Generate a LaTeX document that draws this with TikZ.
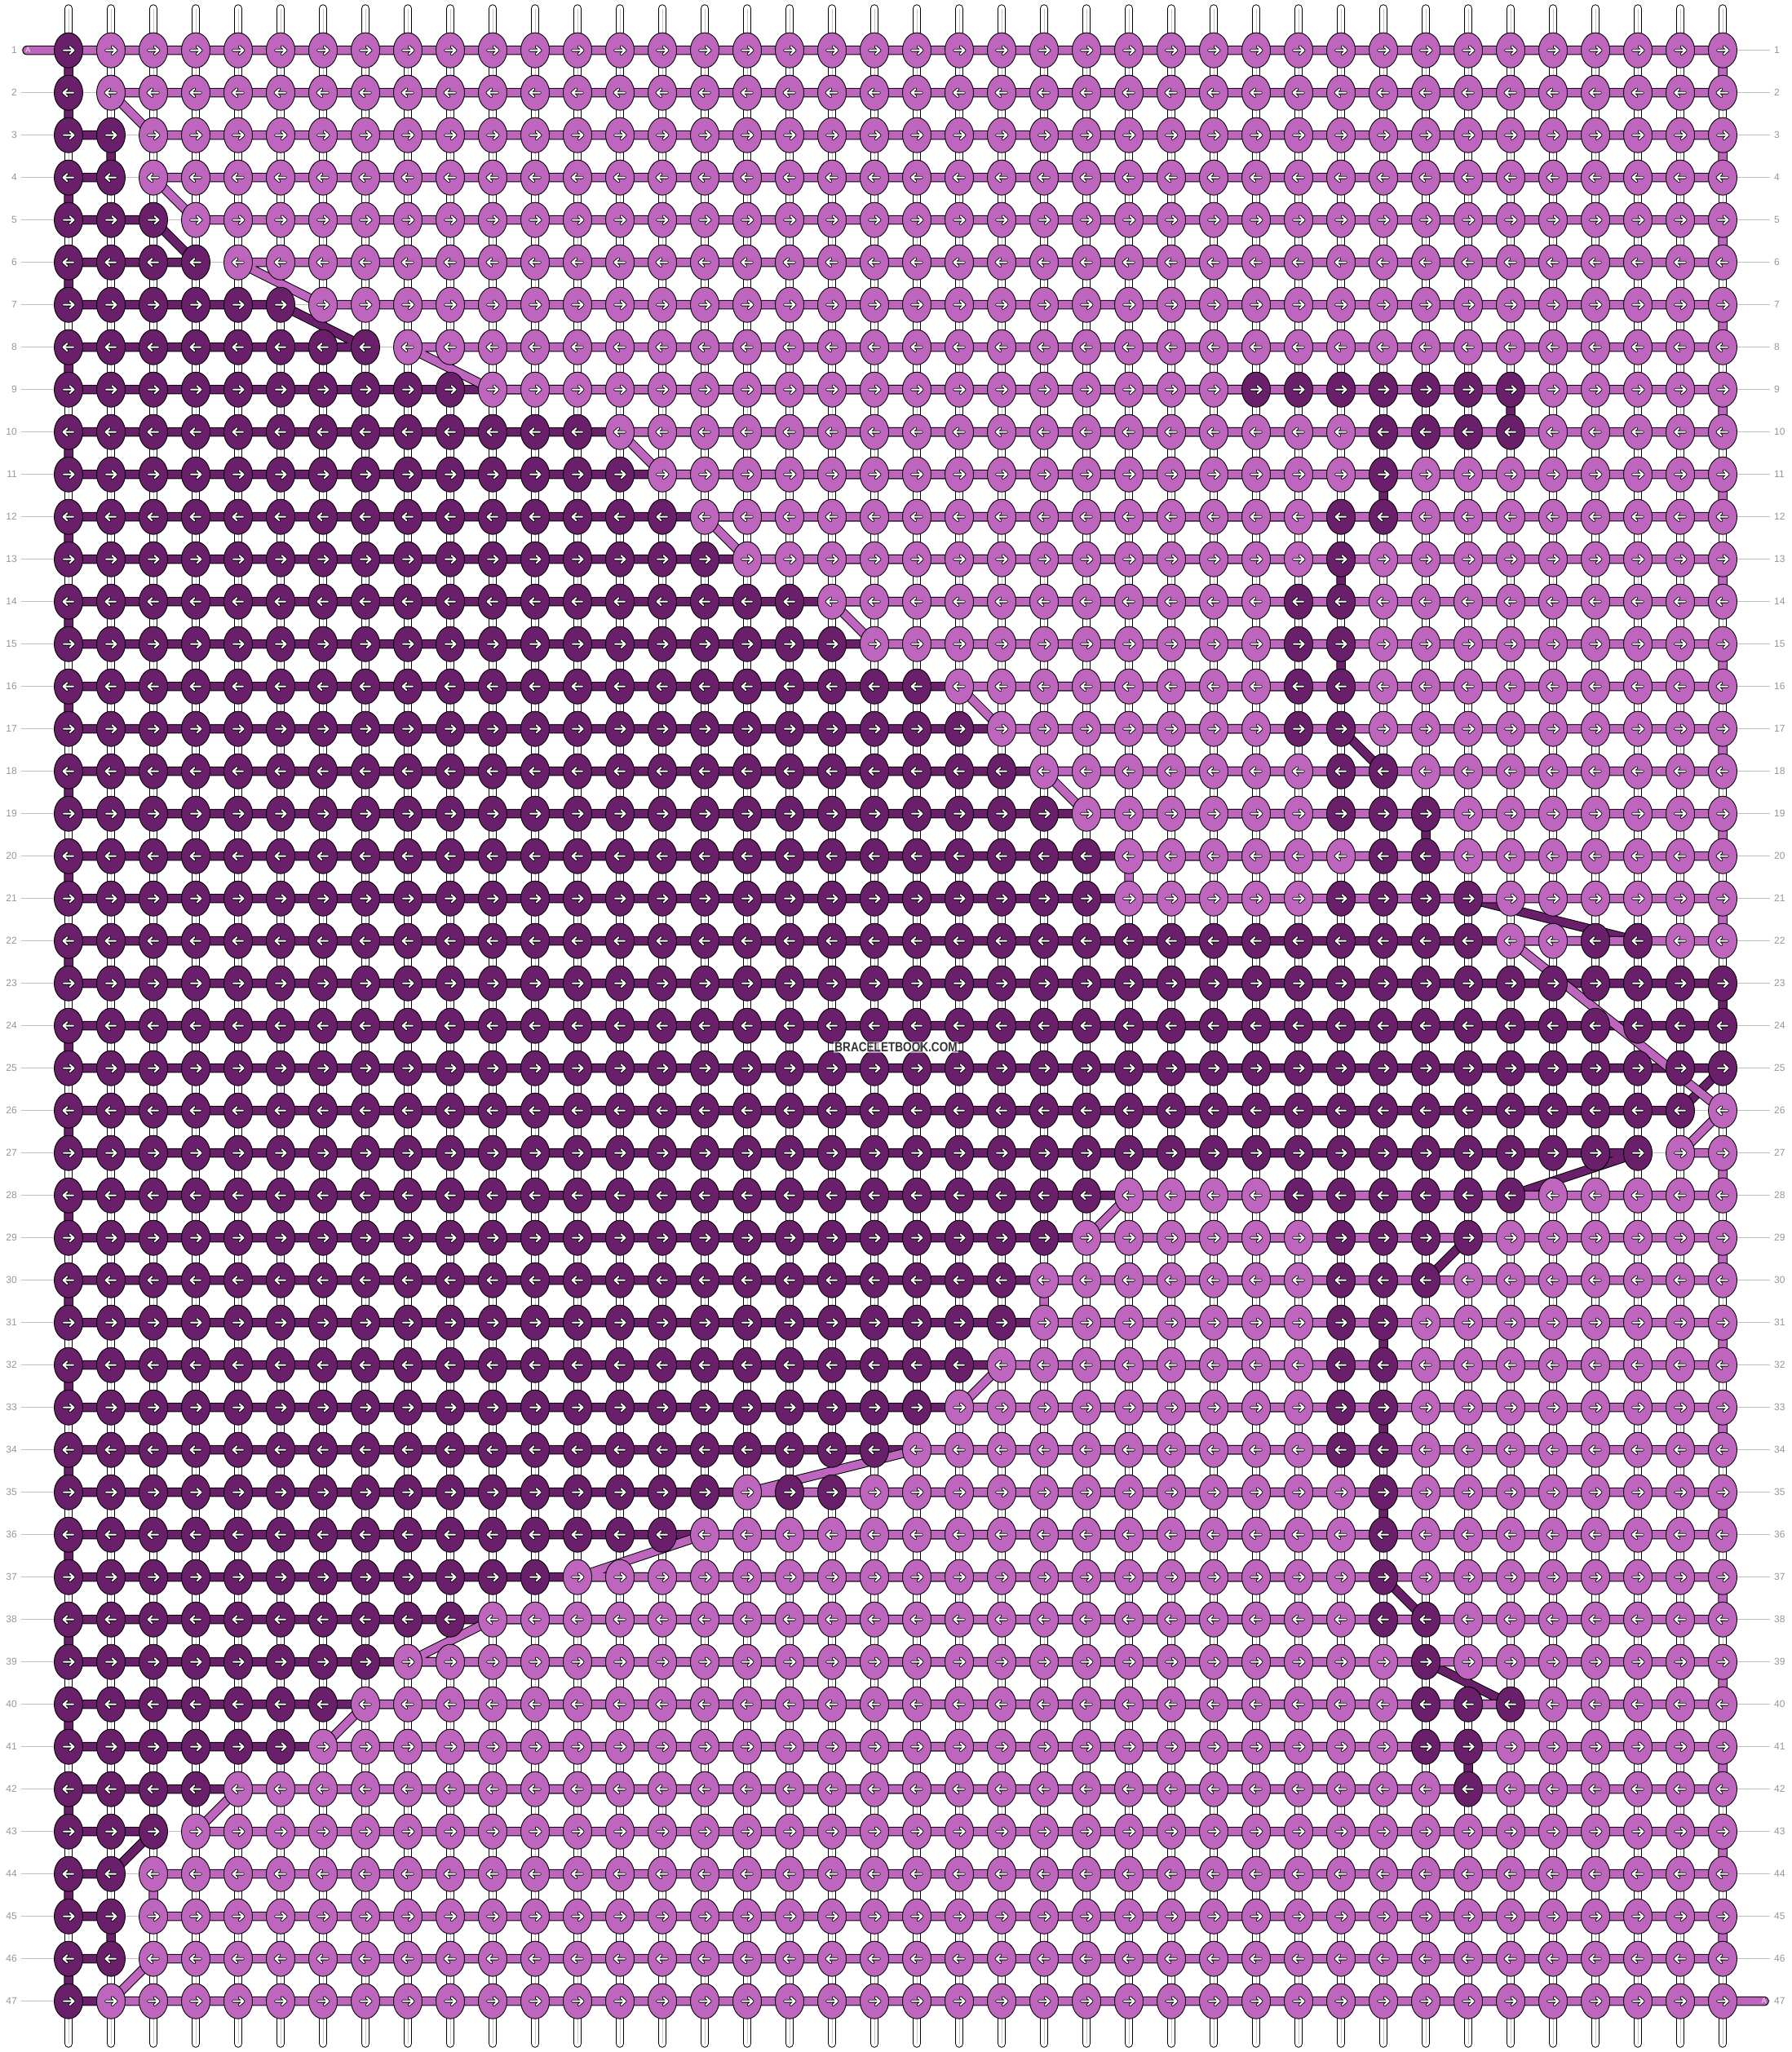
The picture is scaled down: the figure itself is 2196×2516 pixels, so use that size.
\documentclass[tikz,border=0pt]{standalone}
\usepackage{fontspec}
\setmainfont{Liberation Sans}
\usepackage{graphicx}
\definecolor{dk}{RGB}{106,31,106}
\definecolor{lt}{RGB}{190,102,190}
\definecolor{rowgray}{RGB}{192,192,192}
\definecolor{numgray}{RGB}{150,150,150}
\definecolor{apale}{RGB}{246,226,246}
\tikzset{
  knotd/.style={fill=dk, draw=black, line width=0.9pt},
  knotl/.style={fill=lt, draw=black, line width=0.9pt},
  rowline/.style={rowgray, line width=1.2pt},
  strout/.style={black, line width=10.5pt, line cap=round},
  strin/.style={white, line width=8.5pt, line cap=round},
  strmid/.style={black!22, line width=0.8pt},
  thread/.style={line width=1pt, double distance=9.5pt, line join=round, line cap=round},
  darkthread/.style={thread, draw=black, double=dk},
  lightthread/.style={thread, draw=black, double=lt},
  arrout/.style={black, line width=3.8pt, line cap=round, line join=round},
  arrin/.style={white, line width=2pt, line cap=round, line join=round},
  rownum/.style={text=numgray, font=\fontsize{12}{12}\selectfont, inner sep=0pt},
  alabel/.style={text=apale, font=\fontsize{9}{9}\selectfont, inner sep=0pt},
}
\def\darklist{1/1,2/1,3/1,3/2,4/2,4/1,5/1,5/3,6/4,6/1,7/1,7/6,8/8,8/1,9/1,9/35,10/35,10/1,11/1,11/32,12/32,12/1,13/1,13/31,14/31,14/1,15/1,15/31,16/31,16/1,17/1,17/31,18/32,18/1,19/1,19/33,20/33,20/1,21/1,21/34,22/38,22/1,23/1,23/40,24/40,24/1,25/1,25/40,26/39,26/1,27/1,27/38,28/35,28/1,29/1,29/34,30/33,30/1,31/1,31/32,32/32,32/1,33/1,33/32,34/32,34/1,35/1,35/32,36/32,36/1,37/1,37/32,38/33,38/1,39/1,39/33,40/35,40/1,41/1,41/34,42/34,42/1,43/1,43/3,44/2,44/1,45/1,45/2,46/2,46/1,47/1,47/2}
\def\lightlist{1/2,1/40,2/40,2/2,3/3,3/40,4/40,4/3,5/4,5/40,6/40,6/5,7/7,7/40,8/40,8/9,9/11,9/40,10/40,10/14,11/15,11/40,12/40,12/16,13/17,13/40,14/40,14/19,15/20,15/40,16/40,16/22,17/23,17/40,18/40,18/24,19/25,19/40,20/40,20/26,21/26,21/40,22/40,22/35,26/40,27/39,27/40,28/40,28/26,29/25,29/40,30/40,30/24,31/24,31/40,32/40,32/23,33/22,33/40,34/40,34/21,35/17,35/40,36/40,36/16,37/13,37/40,38/40,38/11,39/9,39/40,40/40,40/8,41/7,41/40,42/40,42/5,43/4,43/40,44/40,44/3,45/3,45/40,46/40,46/3,47/2,47/40}
\begin{document}
\begin{tikzpicture}[x=1pt,y=-1pt]
\useasboundingbox (0,0) rectangle (2196,2516);
% named points used by the threads
\foreach \r/\c in \darklist {\coordinate (p-\r-\c) at ({32+52*\c},{9.7+52*\r});}
\foreach \r/\c in \lightlist {\coordinate (p-\r-\c) at ({32+52*\c},{9.7+52*\r});}
\coordinate (tailL) at (33,61.7);
\coordinate (tailR) at (2163,2453.7);
% row guide lines
\foreach \R in {1,...,47}{
  \coordinate (rl-\R) at (26,{9.7+52*\R});
  \coordinate (rr-\R) at (2170,{9.7+52*\R});
  \draw[rowline] (rl-\R) -- (rr-\R);
}
% vertical strings
\foreach \C in {1,...,40}{
  \coordinate (st-\C) at ({32+52*\C},10.5);
  \coordinate (sb-\C) at ({32+52*\C},2505.5);
  \draw[strout] (st-\C) -- (sb-\C);
  \draw[strin] (st-\C) -- (sb-\C);
  \draw[strmid] (st-\C) -- (sb-\C);
}
% threads
\gdef\dth{}
\foreach \r/\c [count=\i] in \darklist {\ifnum\i=1 \xdef\dth{(p-\r-\c)}\else\xdef\dth{\dth -- (p-\r-\c)}\fi}
\gdef\lth{}
\foreach \r/\c in \lightlist {\xdef\lth{\lth -- (p-\r-\c)}}
\draw[darkthread] \dth;
\draw[lightthread] (tailL) \lth -- (tailR);
% knots
\foreach \R/\K/\Pa/\Pb/\Qa/\Qb in {
 1/1/0/0/0/0, 2/1/0/0/0/0, 3/2/0/0/0/0, 4/2/0/0/0/0, 5/3/0/0/0/0, 6/4/0/0/0/0,
 7/6/0/0/0/0, 8/8/0/0/0/0, 9/10/29/35/0/0, 10/13/32/35/0/0, 11/14/32/32/0/0,
 12/15/31/32/0/0, 13/16/31/31/0/0, 14/18/30/31/0/0, 15/19/30/31/0/0, 16/21/30/31/0/0,
 17/22/30/31/0/0, 18/23/31/32/0/0, 19/24/31/33/0/0, 20/25/32/33/0/0, 21/25/31/34/0/0,
 22/34/37/38/0/0, 23/40/0/0/0/0, 24/40/0/0/0/0, 25/40/0/0/0/0, 26/39/0/0/0/0,
 27/38/0/0/0/0, 28/25/30/35/0/0, 29/24/31/34/0/0, 30/23/31/33/0/0, 31/23/31/32/0/0,
 32/22/31/32/0/0, 33/21/31/32/0/0, 34/20/31/32/0/0, 35/16/18/19/32/32, 36/15/32/32/0/0,
 37/12/32/32/0/0, 38/10/32/33/0/0, 39/8/33/33/0/0, 40/7/33/35/0/0, 41/6/33/34/0/0,
 42/4/34/34/0/0, 43/3/0/0/0/0, 44/2/0/0/0/0, 45/2/0/0/0/0, 46/2/0/0/0/0, 47/1/0/0/0/0}{
  \pgfmathsetmacro\yy{9.7+52*\R}
  \gdef\dpath{}\gdef\lpath{}\gdef\apath{}
  \foreach \C in {1,...,40}{
    \edef\xx{\the\numexpr 32+52*\C\relax}%
    \def\isdk{0}%
    \ifnum\C>\K\relax\else\def\isdk{1}\fi
    \ifnum\C<\Pa\relax\else\ifnum\C>\Pb\relax\else\def\isdk{1}\fi\fi
    \ifnum\C<\Qa\relax\else\ifnum\C>\Qb\relax\else\def\isdk{1}\fi\fi
    \if1\isdk
      \xdef\dpath{\dpath (\xx,\yy) ellipse (17.5 and 21.5)}%
    \else
      \xdef\lpath{\lpath (\xx,\yy) ellipse (17.5 and 21.5)}%
    \fi
    \ifodd\R\relax
      \xdef\apath{\apath (\xx,\yy) ++(-6,0) -- ++(12,0) ++(-4.5,-4.5) -- ++(5,4.5) -- ++(-5,4.5)}%
    \else
      \xdef\apath{\apath (\xx,\yy) ++(6,0) -- ++(-12,0) ++(4.5,-4.5) -- ++(-5,4.5) -- ++(5,4.5)}%
    \fi
  }
  \filldraw[knotd] \dpath;
  \filldraw[knotl] \lpath;
  \draw[arrout] \apath;
  \draw[arrin] \apath;
  \node[rownum, anchor=east] (nl-\R) at ([xshift=-5pt]rl-\R) {\R};
  \node[rownum, anchor=west] (nr-\R) at ([xshift=5pt]rr-\R) {\R};
}
\node[alabel] (aL) at (34.5,61.7) {A};
\node[alabel] (aR) at (2162.5,2453.7) {A};
\node[fill=white, fill opacity=0.55, text opacity=1, text=black!80, inner sep=1.5pt,
      font=\bfseries\fontsize{16.3}{16}\selectfont] (wm) at (1098.5,1284)
      {\scalebox{0.834}[1]{BRACELETBOOK.COM}};
\end{tikzpicture}
\end{document}
